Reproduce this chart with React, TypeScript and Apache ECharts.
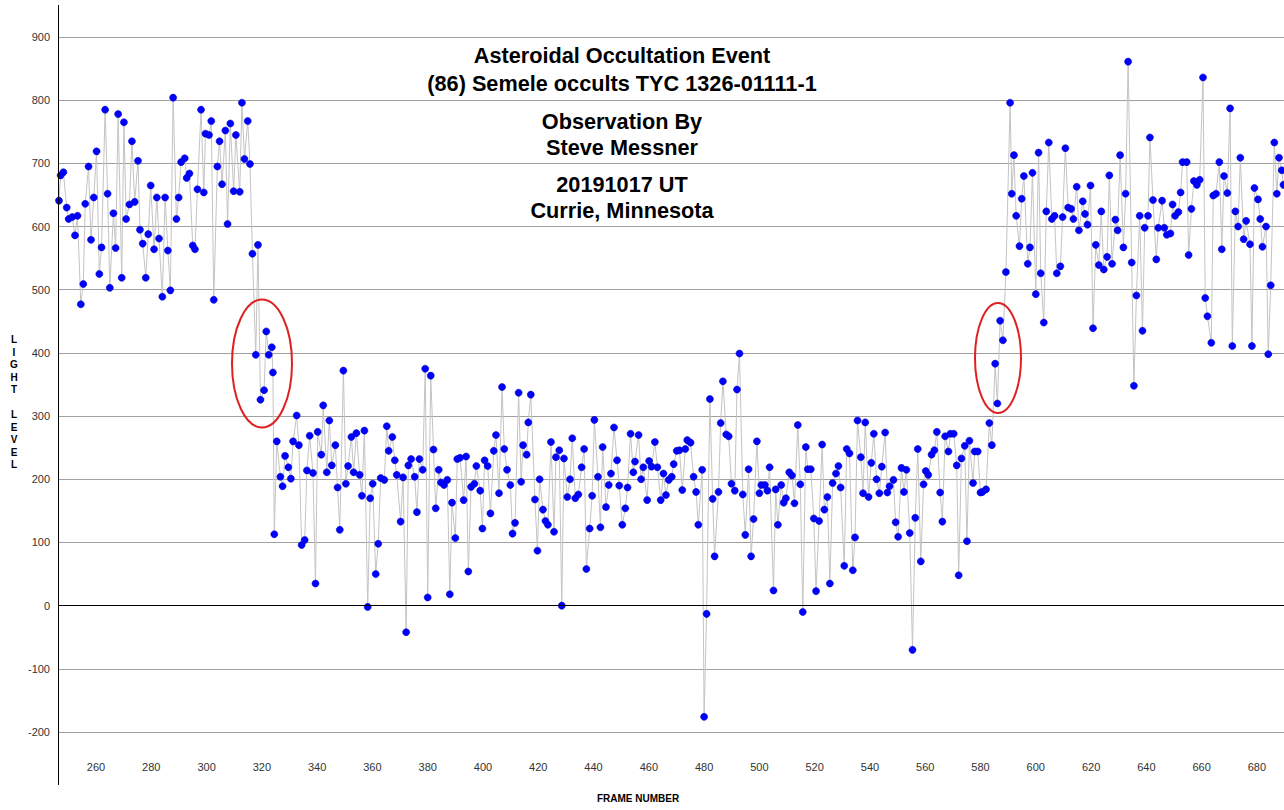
import React, { useEffect, useRef } from "react";
import * as echarts from "echarts";

// [frame, light level] pairs, split by phase of the event
const baselineBefore: number[][] = [
  [246.6,641],[247.2,681],[248.2,686],[249.4,630],[250.1,612],[251.4,615],[252.4,586],[253.3,617],[254.5,477],[255.4,509],
  [256.1,636],[257.3,695],[258.2,579],[259.2,646],[260.2,719],[261.2,525],[262,567],[263.3,785],[264.2,652],[265,503],
  [266.3,621],[267.1,566],[268,778],[269.3,519],[270.1,765],[270.9,612],[272.1,635],[273,735],[274,639],[275.2,704],
  [275.9,595],[276.9,573],[278,519],[278.9,588],[279.8,665],[281,564],[282,646],[282.8,581],[284,489],[285,646],
  [286,562],[286.9,499],[287.9,804],[289.1,612],[289.9,646],[290.8,702],[292.1,708],[292.8,677],[293.8,684],[295,570],
  [295.8,564],[296.7,659],[298,785],[299,654],[299.6,747],[300.9,745],[301.7,767],[302.6,484],[303.9,695],[304.7,735],
  [305.6,667],[306.8,752],[307.6,604],[308.6,763],[309.8,656],[310.6,745],[312,655],[312.8,796],[313.7,707],[314.9,767],
  [315.7,699]
];

const disappearance: number[][] = [
  [316.6,557],[317.8,397],[318.6,571],[319.5,326],[320.8,341],[321.6,434],[322.5,397],[323.6,409],[324,369]
];

const occulted: number[][] = [
  [324.5,113],[325.4,260],[326.7,204],[327.5,189],[328.4,237],[329.6,219],[330.5,201],[331.3,260],[332.6,301],[333.4,254],
  [334.4,96],[335.5,104],[336.3,214],[337.3,269],[338.5,210],[339.4,35],[340.2,275],[341.5,239],[342.2,317],[343.5,211],
  [344.4,293],[345.3,222],[346.6,254],[347.4,187],[348.2,120],[349.5,372],[350.4,193],[351.2,221],[352.4,267],[353.2,211],
  [354.2,273],[355.4,207],[356.2,174],[357.1,277],[358.3,-2],[359.2,170],[360.1,193],[361.2,50],[362.1,98],[363,202],
  [364.3,199],[365.2,284],[365.9,245],[367.2,267],[368.1,230],[368.8,207],[370.2,133],[371.1,203],[372.2,-42],[373,222],
  [374,232],[375.3,204],[376.1,148],[377,232],[378.2,215],[379.1,375],[380,13],[381.1,364],[382.1,247],[382.9,154],
  [384,215],[384.8,195],[385.9,191],[387.1,199],[388,18],[388.8,163],[390,107],[390.7,232],[391.7,234],[393,167],
  [393.9,236],[394.7,54],[395.7,188],[396.9,193],[397.6,221],[399,182],[399.8,122],[400.6,230],[401.7,221],[402.7,146],
  [403.9,245],[404.7,270],[405.8,178],[406.9,346],[407.7,248],[408.7,215],[409.9,191],[410.7,114],[411.6,131],[412.9,337],
  [413.8,196],[414.5,254],[415.8,239],[416.4,290],[417.3,334],[418.8,168],[419.7,87],[420.5,200],[421.7,152],[422.6,134],
  [423.5,128],[424.6,259],[425.7,117],[426.4,235],[427.6,246],[428.5,0],[429.3,233],[430.5,172],[431.5,200],[432.3,265],
  [433.4,170],[434.5,176],[435.7,219],[436.6,248],[437.4,58],[438.6,122],[439.5,174],[440.3,294],[441.6,204],[442.5,124],
  [443.3,251],[444.5,156],[445.5,191],[446.3,209],[447.4,282],[448.5,230],[449.3,190],[450.4,128],[451.5,154],[452.3,187],
  [453.4,272],[454.4,211],[455,228],[456.3,270],[457.2,200],[458,219],[459.4,167],[460.1,229],[461,220],[462.2,259],
  [463.1,219],[464.3,167],[465.3,209],[466.2,175],[467.2,199],[468.3,204],[469,224],[470.1,245],[471.1,246],[472.1,183],
  [473.2,248],[473.9,262],[475.1,258],[476.2,204],[477.1,180],[477.9,128],[479.3,215],[480,-176],[480.9,-13],[482.1,327],
  [483.1,169],[483.8,78],[485.2,180],[486,289],[486.8,355],[488,271],[488.9,268],[489.9,193],[491.1,182],[491.9,342],
  [492.8,399],[494,176],[494.9,112],[496.1,216],[497,78],[497.9,137],[499.1,260],[500,178],[500.7,191],[502,191],
  [502.9,182],[503.7,219],[505.1,24],[505.9,184],[506.7,128],[507.9,191],[508.8,163],[509.6,170],[510.8,211],[511.8,206],
  [512.7,162],[513.9,286],[514.8,192],[515.7,-10],[516.8,251],[517.5,216],[518.6,216],[519.7,138],[520.5,23],[521.6,134],
  [522.7,255],[523.5,152],[524.6,172],[525.5,35],[526.5,194],[527.7,209],[528.6,221],[529.4,187],[530.7,63],[531.6,248],
  [532.6,241],[533.8,56],[534.6,108],[535.5,293],[536.7,235],[537.5,178],[538.3,290],[539.5,172],[540.5,226],[541.4,272],
  [542.4,200],[543.4,178],[544.3,220],[545.5,274],[546.3,179],[547.1,189],[548.5,199],[549.3,132],[550.2,109],[551.4,218],
  [552.3,180],[553.2,215],[554.4,115],[555.4,-70],[556.4,139],[557.3,248],[558.4,70],[559.4,192],[560.2,213],[561.1,207],
  [562.3,239],[563.3,246],[564.2,275],[565.4,179],[566.2,133],[567.2,268],[568.4,244],[569.1,272],[570.3,272],[571.4,222],
  [572.1,48],[573.1,233],[574.3,253],[575.1,102],[576,261],[577.3,194],[577.9,244],[579,244],[580,179],[580.7,180],
  [582,184],[583.2,289],[584.1,254]
];

const reappearance: number[][] = [
  [585.3,383],[586.1,320],[587.1,451],[588.1,420],[589.2,528]
];

const baselineAfter: number[][] = [
  [590.7,796],[591.3,652],[592.1,713],[592.9,617],[594.1,569],[594.9,644],[595.7,680],[597.1,541],[597.9,567],[598.8,685],
  [600,493],[601,717],[601.8,526],[602.9,448],[603.8,624],[604.7,733],[605.8,612],[606.8,617],[607.6,526],[608.9,537],
  [609.7,615],[610.7,724],[611.7,630],[612.8,628],[613.6,612],[614.8,663],[615.6,594],[617,640],[617.8,620],[618.7,603],
  [619.8,665],[620.7,439],[621.7,571],[622.8,539],[623.7,624],[624.6,532],[625.8,552],[626.6,681],[627.6,541],[628.8,611],
  [629.6,594],[630.5,713],[631.7,567],[632.5,652],[633.4,861],[634.7,543],[635.5,348],[636.4,491],[637.6,617],[638.6,435],
  [639.4,598],[640.6,617],[641.3,741],[642.4,642],[643.6,548],[644.3,598],[645.7,641],[646.5,598],[647.4,587],[648.7,589],
  [649.5,635],[650.4,617],[651.6,623],[652.4,654],[653.1,702],[654.6,702],[655.3,555],[656.3,628],[657.2,672],[658.3,666],
  [659.3,674],[660.5,836],[661.3,487],[662.1,458],[663.5,416],[664.2,649],[665.2,652],[666.4,702],[667.3,564],[668.1,680],
  [669.3,653],[670.3,787],[671.1,411],[672.2,624],[673.2,600],[674,709],[675.2,580],[676.1,609],[677.5,572],[678.2,411],
  [679.1,661],[680.4,643],[681.2,612],[682,568],[683.3,600],[684.1,398],[685,507],[686.3,733],[687.2,652],[688,709],
  [689,689],[689.6,666]
];

const xTickLabels = [260, 280, 300, 320, 340, 360, 380, 400, 420, 440, 460, 480, 500, 520, 540, 560, 580, 600, 620, 640, 660, 680];

const titleLines = [
  "Asteroidal Occultation Event",
  "(86) Semele occults TYC 1326-01111-1",
  "Observation By",
  "Steve Messner",
  "20191017 UT",
  "Currie, Minnesota"
];

const FONT = "'Liberation Sans', Arial, sans-serif";

export default function App() {
  const ref = useRef<HTMLDivElement>(null);

  useEffect(() => {
    if (!ref.current) return;
    const chart = echarts.init(ref.current, null, { renderer: "svg" });
    const allPoints = [...baselineBefore, ...disappearance, ...occulted, ...reappearance, ...baselineAfter];
    const titleY = [55, 83, 121, 147, 184, 210];

    chart.setOption({
      animation: false,
      backgroundColor: "#ffffff",
      grid: { left: 58, right: 0, top: 37, bottom: 78, containLabel: false },
      xAxis: {
        type: "value",
        min: 246.25,
        max: 689.8,
        axisLine: { show: false },
        axisTick: { show: false },
        splitLine: { show: false },
        axisLabel: {
          customValues: xTickLabels,
          margin: 29,
          fontSize: 11,
          color: "#333",
          fontFamily: FONT
        }
      },
      yAxis: {
        type: "value",
        min: -200,
        max: 900,
        interval: 100,
        axisLine: { show: false },
        axisTick: { show: false },
        splitLine: { show: true, lineStyle: { color: "#a0a0a0", width: 1 } },
        axisLabel: { fontSize: 11, color: "#333", margin: 8, fontFamily: FONT }
      },
      series: [
        {
          type: "line",
          data: allPoints,
          symbol: "circle",
          symbolSize: 7,
          showAllSymbol: true,
          clip: false,
          lineStyle: { color: "#c4c4c4", width: 1 },
          itemStyle: { color: "#0000ff", borderColor: "#0000c8", borderWidth: 0.6 },
          markLine: {
            silent: true,
            symbol: "none",
            label: { show: false },
            lineStyle: { color: "#000", width: 1, type: "solid" },
            data: [{ yAxis: 0 }]
          },
          z: 3
        }
      ],
      graphic: [
        { type: "line", shape: { x1: 58.5, y1: 5, x2: 58.5, y2: 785 }, style: { stroke: "#000", lineWidth: 1 }, z: 10 },
        ...titleLines.map((t, i) => ({
          type: "text",
          x: 622,
          y: titleY[i],
          style: {
            text: t,
            fill: "#000",
            font: `bold 21.7px ${FONT}`,
            textAlign: "center",
            textVerticalAlign: "middle"
          },
          z: 20
        })),
        {
          type: "text",
          x: 14,
          y: 402,
          style: {
            text: "L\nI\nG\nH\nT\n\nL\nE\nV\nE\nL",
            fill: "#000",
            font: `bold 10px ${FONT}`,
            lineHeight: 12.5,
            textAlign: "center",
            textVerticalAlign: "middle"
          }
        },
        {
          type: "text",
          x: 638,
          y: 798,
          style: {
            text: "FRAME NUMBER",
            fill: "#000",
            font: `bold 10px ${FONT}`,
            textAlign: "center",
            textVerticalAlign: "middle"
          }
        },
        {
          type: "ellipse",
          shape: { cx: 262, cy: 363.5, rx: 30, ry: 64 },
          style: { fill: "none", stroke: "#e02020", lineWidth: 2 },
          z: 15
        },
        {
          type: "ellipse",
          shape: { cx: 998, cy: 358, rx: 23, ry: 55 },
          style: { fill: "none", stroke: "#e02020", lineWidth: 2 },
          z: 15
        }
      ]
    });

    return () => chart.dispose();
  }, []);

  return (
    <div
      ref={ref}
      style={{ position: "absolute", left: 0, top: 0, width: 1284, height: 810, background: "#fff" }}
    />
  );
}
